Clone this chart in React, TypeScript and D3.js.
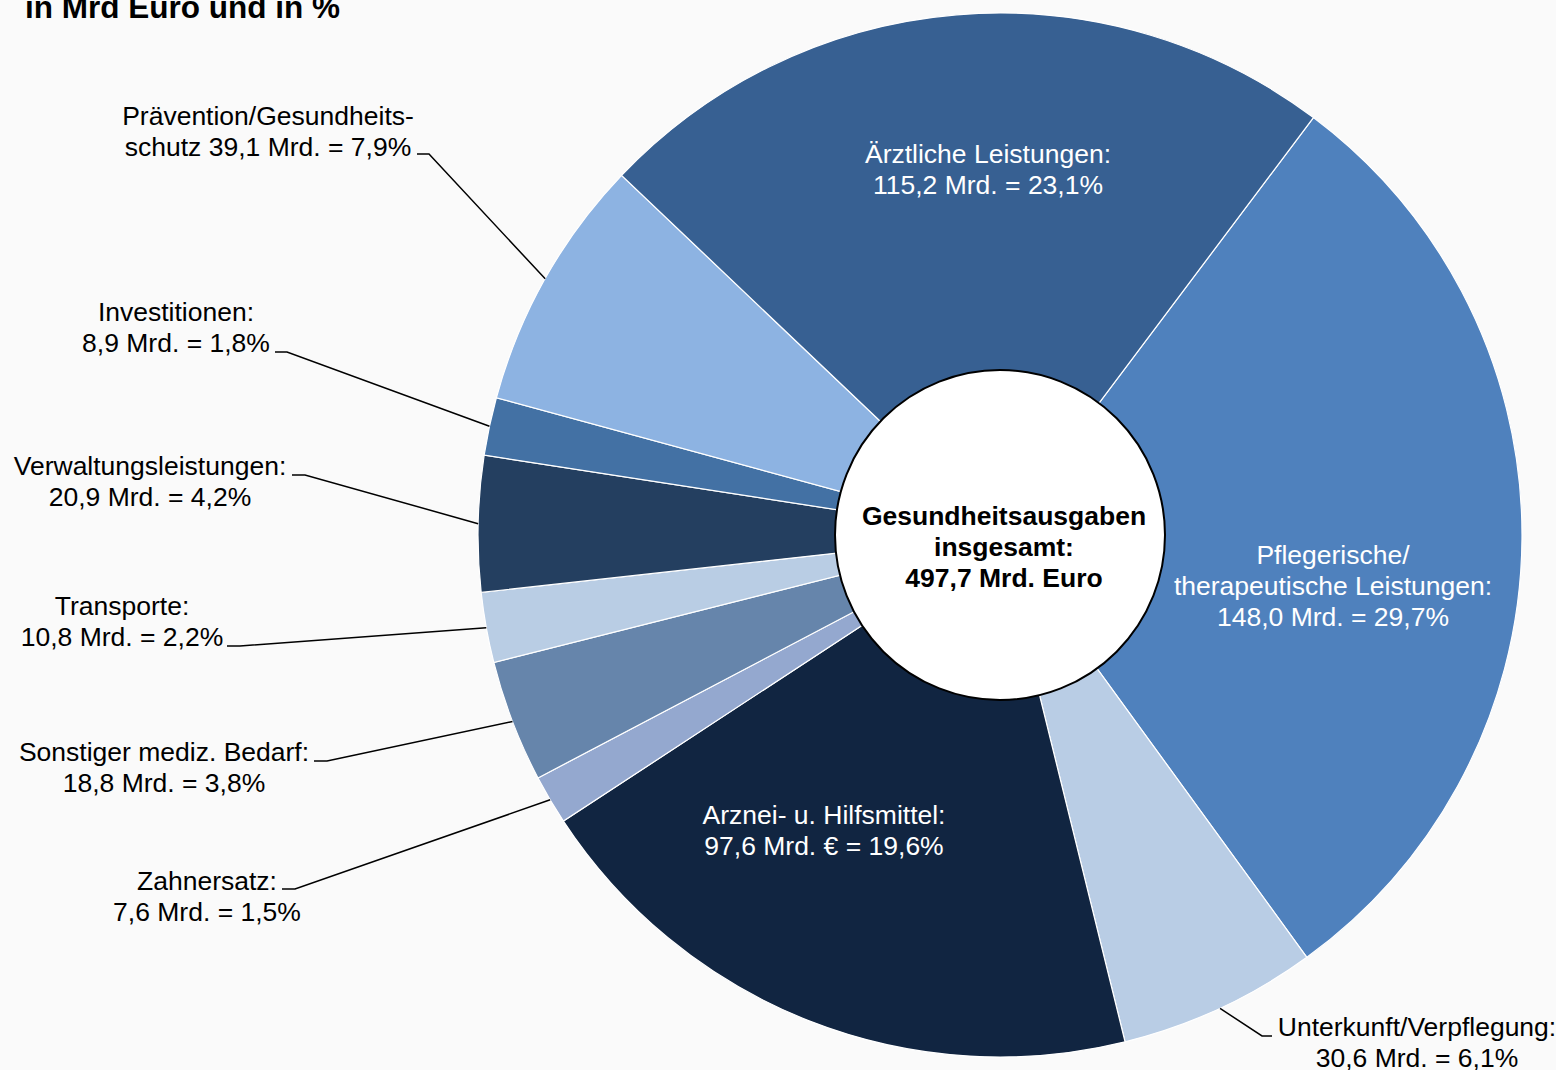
import React from "react";
import * as d3 from "d3";

const categories = [
  "Pflegerische",
  "Unterkunft",
  "Arznei",
  "Zahnersatz",
  "Sonstiger",
  "Transporte",
  "Verwaltung",
  "Investitionen",
  "Praevention",
  "Aerztliche",
];
const valuesMrd = [148.0, 30.6, 97.6, 7.6, 18.8, 10.8, 20.9, 8.9, 39.1, 115.2];
const labelLines = [
  ["Pflegerische/", "therapeutische Leistungen:", "148,0 Mrd. = 29,7%"],
  ["Unterkunft/Verpflegung:", "30,6 Mrd. = 6,1%"],
  ["Arznei- u. Hilfsmittel:", "97,6 Mrd. € = 19,6%"],
  ["Zahnersatz:", "7,6 Mrd. = 1,5%"],
  ["Sonstiger mediz. Bedarf:", "18,8 Mrd. = 3,8%"],
  ["Transporte:", "10,8 Mrd. = 2,2%"],
  ["Verwaltungsleistungen:", "20,9 Mrd. = 4,2%"],
  ["Investitionen:", "8,9 Mrd. = 1,8%"],
  ["Prävention/Gesundheits-", "schutz 39,1 Mrd. = 7,9%"],
  ["Ärztliche Leistungen:", "115,2 Mrd. = 23,1%"],
];
const centerLines = ["Gesundheitsausgaben", "insgesamt:", "497,7 Mrd. Euro"];
const titleText = "in Mrd Euro und in %";

// styles / layout (not data)
const colors = [
  "#4f81bd",
  "#b9cde5",
  "#112541",
  "#94a8cf",
  "#6685ab",
  "#b9cde4",
  "#243f60",
  "#4371a4",
  "#8db3e2",
  "#376092",
];
// label anchor: [centerX, firstBaselineY, inside?]
const labelPos: [number, number, boolean][] = [
  [1333, 564, true],
  [1417, 1036, false],
  [824, 824, true],
  [207, 890, false],
  [164, 761, false],
  [122, 615, false],
  [150, 475, false],
  [176, 321, false],
  [268, 125, false],
  [988, 163, true],
];
// leader: [startX, y, elbowX] or null
const leaders: ([number, number, number] | null)[] = [
  null,
  [1272, 1036, 1262],
  null,
  [282, 889, 295],
  [314, 761, 327],
  [227, 646, 240],
  [292, 475, 305],
  [275, 352, 287],
  [417, 154, 429],
  null,
];

export default function App() {
  const W = 1556;
  const H = 1070;
  const cx = 1000;
  const cy = 535;
  const R = 522;
  const rInner = 165;
  const startDeg = 36.9;

  const pie = d3
    .pie<number>()
    .sort(null)
    .value((d) => d)
    .startAngle((startDeg * Math.PI) / 180)
    .endAngle((startDeg * Math.PI) / 180 + 2 * Math.PI);
  const arcs = pie(valuesMrd);
  const arc = d3.arc<d3.PieArcDatum<number>>().innerRadius(0).outerRadius(R);

  const font = "'Liberation Sans', Arial, sans-serif";
  const lh = 31;
  const fs = 26.5;

  return (
    <svg
      width={W}
      height={H}
      style={{ position: "absolute", left: 0, top: 0, background: "#fafafa" }}
    >
      <rect x={0} y={0} width={W} height={H} fill="#fafafa" />
      <text x={25} y={18} fontFamily={font} fontSize={31.5} fontWeight="bold" fill="#000">
        {titleText}
      </text>
      <g transform={`translate(${cx},${cy})`}>
        {arcs.map((a, i) => (
          <path key={categories[i]} d={arc(a) || ""} fill={colors[i]} stroke="#ffffff" strokeWidth={1.2} />
        ))}
        <circle r={rInner} fill="#ffffff" stroke="#000" strokeWidth={2} />
      </g>
      {arcs.map((a, i) => {
        const ld = leaders[i];
        if (!ld) return null;
        const mid = (a.startAngle + a.endAngle) / 2;
        const px = cx + R * Math.sin(mid);
        const py = cy - R * Math.cos(mid);
        const [sx, y, ex] = ld;
        return (
          <polyline
            key={"l" + i}
            points={`${sx},${y} ${ex},${y} ${px},${py}`}
            fill="none"
            stroke="#000"
            strokeWidth={1.5}
          />
        );
      })}
      {labelLines.map((lines, i) => {
        const [x, y, inside] = labelPos[i];
        return (
          <text
            key={"t" + i}
            fontFamily={font}
            fontSize={fs}
            textAnchor="middle"
            fill={inside ? "#ffffff" : "#000000"}
          >
            {lines.map((ln, j) => (
              <tspan key={j} x={x} y={y + j * lh}>
                {ln}
              </tspan>
            ))}
          </text>
        );
      })}
      <text fontFamily={font} fontSize={fs} fontWeight="bold" textAnchor="middle" fill="#000">
        {centerLines.map((ln, j) => (
          <tspan key={j} x={1004} y={525 + j * lh}>
            {ln}
          </tspan>
        ))}
      </text>
    </svg>
  );
}
